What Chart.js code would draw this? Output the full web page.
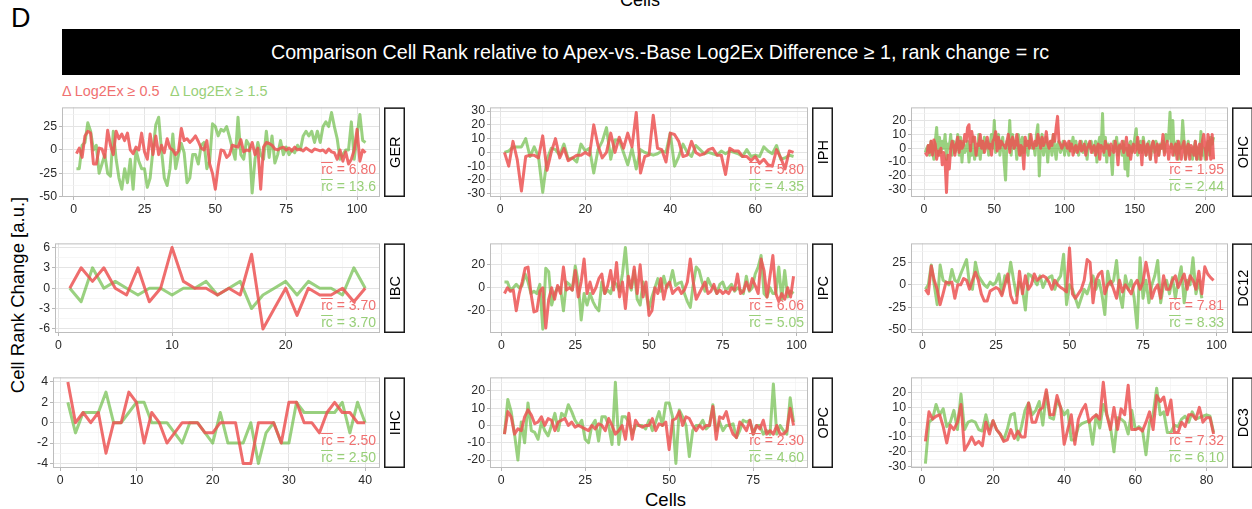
<!DOCTYPE html>
<html>
<head>
<meta charset="utf-8">
<script src="https://cdn.jsdelivr.net/npm/chart.js@4.4.1/dist/chart.umd.min.js"></script>
<style>
  body { margin: 0; width: 1252px; height: 509px; overflow: hidden; position: relative; background: #fff;
         font-family: "Liberation Sans", Arial, sans-serif; }
  .txt { position: absolute; white-space: nowrap; line-height: 1; }
  canvas { position: absolute; }
</style>
</head>
<body>
<div class="txt" style="left:620px;top:-9px;font-size:18px;color:#000">Cells</div>
<div class="txt" style="left:11px;top:5px;font-size:27px;color:#000">D</div>
<div style="position:absolute;left:62px;top:29px;width:1178px;height:46px;background:#000"></div>
<div class="txt" style="left:62px;width:1196px;text-align:center;top:43px;font-size:19.7px;color:#fff">Comparison Cell Rank relative to Apex-vs.-Base Log2Ex Difference ≥ 1, rank change = rc</div>
<div class="txt" style="left:62px;top:84px;font-size:14.4px;color:#f07070">Δ Log2Ex ≥ 0.5</div>
<div class="txt" style="left:170px;top:84px;font-size:14.4px;color:#98cf78">Δ Log2Ex ≥ 1.5</div>
<div class="txt" style="left:18px;top:295px;font-size:18.5px;color:#000;transform:translate(-50%,-50%) rotate(-90deg)">Cell Rank Change [a.u.]</div>
<div class="txt" style="left:645px;top:491px;font-size:18.5px;color:#000">Cells</div>

<script>
// ---- values (cell index = position + 1) ----
// red: Δ Log2Ex ≥ 0.5, green: Δ Log2Ex ≥ 1.5

const gerRed = [-4, 2, -8, 15, 20, 18, -15, -15, 2, 1,
  -8, 21, 5, -5, 20, 12, 17, 10, 18, 0,
  -4, 3, 0, 18, -2, -10, 17, -5, 15, -5,
  5, -3, 12, 2, 0, -5, -1, 23, 10, 12,
  8, 11, 15, 9, 2, 0, 10, -15, -25, -42,
  -18, 0, -1, -8, -5, 5, 4, 3, 11, -2,
  0, -1, 8, -5, 2, -42, 3, 8, 7, 5,
  1, 0, 2, 3, 0, 2, -1, 3, 0, 1,
  -1, 2, 0, -2, 1, 0, -1, 0, -3, 1,
  -2, -3, -10, 0, -12, -2, -15, -10, 0, 22,
  -12, 0, -3];
const gerGreen = [-20, -20, 5, 8, 29, 20, 0, 5, -25, -15,
  -5, -25, -28, 20, -10, -30, -42, -20, -35, -10,
  -42, 0, -12, -20, -20, -40, -30, 0, 27, 35,
  0, -30, -38, -20, 17, -20, -5, 7, -3, -35,
  -30, -5, -5, -15, 5, 8, -20, -12, 28, 25,
  15, 22, 20, 25, 14, 2, -10, 35, -5, -10,
  10, 5, -46, -10, 8, -5, -10, 20, -8, 15,
  -14, -5, 10, -5, 3, -5, 0, -3, 5, 0,
  15, 20, 15, 20, 8, 20, 8, 25, 30, 25,
  40, 25, 12, -10, -5, 0, 0, 30, -10, 15,
  38, 10, 8];

const iphRed = [0, -10, 8, -5, -28, -3, -2, -2, -4, 12,
  -13, 0, 10, -4, 3, -6, -4, -2, -2, 0,
  -2, 20, 5, -4, 0, 14, 0, 11, 3, 14,
  4, 29, -15, -3, -2, 27, 3, 2, -7, 14,
  13, 8, -3, -2, 8, 0, -2, -1, 2, 3,
  -2, -2, -16, 3, 1, 1, -3, -3, -6, -3,
  -8, -5, -9, -10, 2, -4, -12, 1, 0];
const iphGreen = [0, 1, 4, 4, 4, 10, -3, 4, -3, -29,
  -5, 3, 2, -2, 6, -5, -4, -7, 6, 1,
  3, -15, 2, 8, 18, -5, 9, 9, 0, -9,
  3, -12, 2, 0, -1, -2, -1, 1, 0, 14,
  -10, -3, 6, 0, -3, 5, 2, -1, 0, -1,
  -2, 1, -1, 1, 0, -1, -3, 2, -3, -2,
  -3, 4, 1, -1, 5, -5, -4, -2, -3];

const ohcRed = [-3, -5, 2, -3, 5, -5, 6, 3, -8, -2,
  -5, 0, -12, -3, -10, -32, -5, -15, 0, 5,
  2, -5, 3, 8, -3, 5, 0, 2, 10, 5,
  15, 17, -2, 12, 5, 8, -5, 3, 2, 10,
  0, 5, -3, 2, 8, 0, 3, -5, 5, 7,
  12, -2, 8, 0, 5, 3, 2, 0, 5, 10,
  -3, 5, 8, 0, 2, 10, 3, -5, 2, 0,
  -15, 8, 2, 5, 0, 10, 3, 0, 5, 2,
  10, 5, 0, 8, 2, 5, 12, 3, 0, 5,
  2, 10, 5, 15, 23, 5, 3, 0, 2, 5,
  3, 0, 5, -2, 3, -5, 0, 2, -3, 0,
  5, -2, 0, 3, -5, 0, 2, 5, -3, 0,
  2, -5, 0, 3, -8, 2, 0, -3, 5, 0,
  2, -5, 3, 0, -3, 5, 0, -12, 2, 0,
  5, -3, 0, 8, -5, 2, -8, 0, 3, -3,
  0, 8, -3, 2, -12, 5, 0, -5, 3, 0,
  -8, 2, 5, 0, -10, 3, -5, 2, 0, 10,
  -5, 0, 5, -8, 0, 3, -5, 0, 3, -8,
  5, 0, -8, 2, 5, -8, 0, 3, -8, 2,
  0, -5, 5, -8, 0, 3, -8, 5, 10, 0,
  -8, 10, 5, -8, 10, -8];
const ohcGreen = [-3, 0, 2, -5, 5, 0, -8, 5, 15, -5,
  8, -3, 5, 0, 10, -8, 3, 0, 10, -5,
  5, -3, 0, 10, -5, 8, -10, 5, -3, 0,
  5, -10, 2, -5, 8, -8, 0, -5, 10, -8,
  5, -3, 8, 0, 5, -5, 3, 10, 0, 20,
  -3, 5, 10, -5, 3, 8, -10, -23, 5, 0,
  20, -5, 10, 0, 5, -8, 10, 5, -5, 8,
  -3, 5, 0, -5, 10, 5, 0, 3, -5, 10,
  17, -20, 5, 10, -5, 0, 8, -10, 3, 5,
  -5, 10, 0, -8, 3, 5, -3, 0, 5, -5,
  3, 0, -5, 5, 0, 8, -3, 5, 0, -5,
  3, 5, -3, 0, 5, -8, 3, 0, 5, -3,
  0, 5, -10, 3, 8, 0, 25, -5, 8, -10,
  3, 0, -5, -19, 5, 0, 8, -5, 3, 0,
  -5, 5, -15, 0, -20, 3, 5, -3, 0, 8,
  14, -5, 0, 5, -3, 8, 0, -5, 3, 5,
  -8, 0, 5, -3, 5, 0, -5, 3, 0, 5,
  -3, 10, 5, 8, 26, 0, 20, -5, 0, 5,
  -8, 3, 0, 20, 5, -8, 0, 5, -5, 0,
  -8, 0, 5, -8, 0, -8, 12, -5, 0, -8,
  0, 5, -5, 8, 3, 8];

const ibcRed = [0, 3, 1, 3, 0, -1, 3, -2, 0, 6, 1, 0, 0, -1, 0, -1, 5, -6, -3, 0, -4, 0, -1, -1, 0, -2, 0];
const ibcGreen = [0, -2, 3, 0, 1, 0, -1, 0, 0, -1, 0, 0, 1, -1, 0, 1, -3, -1, 0, 1, -1, 1, 0, 0, -1, 3, 0];

const ipcRed = [-5, 0, -3, -2, -20, -5, 5, 17, 18, -5,
  -21, -20, -3, 0, -35, -10, 0, -10, 2, -5,
  18, -2, 0, -2, 15, -8, 5, 25, -5, 5,
  -5, 0, 8, 12, -5, 2, 15, -2, 22, -8,
  5, -18, 10, 0, 18, -5, 20, -8, 5, -24,
  -20, 0, -5, 8, -10, 2, 5, -5, -2, 0,
  -5, -2, 5, 25, 5, -10, -5, 0, 5, -5,
  -3, 3, -5, -2, -5, -3, -5, 0, -2, 12,
  -5, -3, 5, -2, 8, 2, -5, 25, 15, -8,
  10, 28, -5, -12, -5, -10, 0, -8, 10];
const ipcGreen = [5, 5, -2, 0, 3, 0, 2, 12, 5, -5,
  -3, -5, 3, -36, 17, 14, -15, -5, 0, 0,
  -20, 5, 3, -2, 19, 5, -28, -5, -15, -5,
  -12, -17, -20, 5, -5, -2, -5, 5, 3, -3,
  12, 35, 5, -2, 15, -10, -15, 5, -5, -18,
  -8, 0, 8, -3, 10, 0, 4, 15, 2, 4,
  5, -5, -12, -17, 3, 18, 15, 5, -3, 8,
  2, 0, -5, 3, 5, -2, 0, 3, -3, 0,
  -2, -5, 10, -3, 0, 12, 18, 28, -5, -8,
  0, -5, -5, 18, -10, 15, -8, -3, -5];

const dc12Red = [-5, -10, 21, 5, -5, -22, -10, 3, 2, 3,
  -15, 0, 0, 7, 5, -5, 5, 14, 5, -10,
  -18, -18, -7, -5, -3, -5, -12, 0, 12, -12,
  -20, -20, 15, -10, 10, -5, 0, 12, 5, 8,
  10, 8, 3, -5, 5, 0, -3, -5, -8, 41,
  -10, -15, -10, -5, 5, 28, 25, -20, 5, 12,
  15, -10, 0, 4, -5, -15, 5, -8, 0, -5,
  -10, 0, 5, -5, 3, 25, 8, -15, -5, 0,
  -15, 10, -5, -5, 5, 10, -3, 5, 12, -5,
  10, 5, -5, 15, -10, 20, 12, 8, 5];
const dc12Green = [-5, 0, 22, 0, -22, 22, 5, 3, 0, 17,
  5, 3, 12, 20, 28, 0, -5, 25, 10, 5,
  0, -3, 3, 0, 3, 12, -10, 10, 3, 25,
  5, -12, 3, -5, -28, 12, 10, 5, 0, 10,
  -3, 5, 8, 10, -5, 5, 10, 34, -22, 0,
  -5, -15, -25, -15, -5, -10, 0, 10, -5, 5,
  -10, -33, 15, 0, 5, 27, -10, -25, 10, -5,
  5, -15, -48, 30, -15, 5, -20, 0, 10, 27,
  -20, 0, 5, -10, 8, -15, 5, 20, -20, 5,
  0, 30, -10, 5, -15];

const ihcRed = [4, 0, 1, 0, 1, -3, 0, 0, 3, 2,
  -2, 1, 0, -2, -1, 0, 0, 0, -1, -1,
  0, 0, 0, -4, -4, 0, 0, 0, -2, 2,
  2, 0, 0, -1, 1, 2, 1, 1, 0, 0];
const ihcGreen = [2, -1, 1, 1, 1, 3, 0, 0, 1, 2,
  2, 0, 0, 0, -1, -2, 0, 0, -1, -2,
  1, -2, -2, -2, 0, -4, -1, 0, -2, -2,
  2, 1, 1, 1, 1, 1, 2, -1, 2, 0];

const opcRed = [-5, 8, 5, -5, -2, -3, 5, 9, 6, 1,
  2, 5, 0, 4, 3, -3, 2, 3, 4, 0,
  2, -1, 0, -1, -2, -3, 0, -2, 1, 0,
  -3, 4, 0, -5, -3, 0, -8, 7, -8, 3,
  0, -1, 0, 0, 4, -3, 1, 0, 2, -14,
  3, 4, 8, 0, 5, 4, 0, -3, 0, -2,
  0, 0, 11, -8, 5, 4, 8, 0, -5, -7,
  2, 0, -3, 3, -5, 0, -2, 3, -5, -3,
  -5, 0, -5, -5, -3, 10, 0];
const opcGreen = [-5, 15, 8, -5, -20, 2, -10, 13, -3, -4,
  -8, 2, -3, -6, 0, 7, -3, 7, 5, 12,
  8, 3, 0, 3, -8, -10, 0, 3, -9, 5,
  5, 0, -11, 25, -11, 5, 5, 2, -5, 0,
  0, 0, -2, 3, -3, 2, 8, 0, 13, 13,
  5, -22, 9, 5, 0, -18, -3, 0, 0, 3,
  -2, 0, 12, -3, 2, -3, 0, 0, 1, -7,
  -3, 3, 2, 3, -5, 0, 0, -5, -3, -5,
  24, -5, 0, -3, -5, 16, 2];

const dc3Red = [-13, 7, 2, 4, 5, -3, -14, -2, -5, 0,
  12, -19, -15, -10, -15, -13, -16, 0, -8, 1,
  -5, -8, -13, -12, -5, -11, -6, -10, -10, 13,
  0, 0, 8, 10, 22, 5, 5, 18, 10, -15,
  -5, 5, -15, 2, 8, 12, 0, 3, 5, 2,
  27, 5, -5, 10, -5, 9, 5, 25, -5, -5,
  -4, -6, 0, 7, -5, 18, 14, 17, 5, 15,
  -7, -7, 0, -3, 5, 5, 2, 10, 0, 3,
  3, -8];
const dc3Green = [-28, 0, 2, 12, 5, 9, -3, 0, 8, -5,
  19, -5, 0, 1, 0, -5, -6, 5, -5, 1,
  -5, -8, -12, -5, 5, 6, -12, -3, 8, 13,
  5, 8, 14, -2, 20, 3, 2, 15, 10, 5,
  8, -12, -12, -3, -1, 0, 1, -15, 5, -4,
  12, 5, -3, -20, 3, 2, 0, -8, 8, -5,
  -3, -5, -22, 0, 5, 23, 5, 7, -7, -7,
  -2, -3, 2, 4, 0, 7, 2, 3, 4, 5,
  4, -7];

// tick labels
const gerXTicks = [0, 25, 50, 75, 100], gerYTicks = [-50, -25, 0, 25];
const iphXTicks = [0, 20, 40, 60], iphYTicks = [-30, -20, -10, 0, 10, 20, 30];
const ohcXTicks = [0, 50, 100, 150, 200], ohcYTicks = [-30, -20, -10, 0, 10, 20];
const ibcXTicks = [0, 10, 20], ibcYTicks = [-6, -3, 0, 3, 6];
const ipcXTicks = [0, 25, 50, 75, 100], ipcYTicks = [-20, 0, 20];
const dc12XTicks = [0, 25, 50, 75, 100], dc12YTicks = [-50, -25, 0, 25];
const ihcXTicks = [0, 10, 20, 30, 40], ihcYTicks = [-4, -2, 0, 2, 4];
const opcXTicks = [0, 25, 50, 75], opcYTicks = [-20, -10, 0, 10, 20];
const dc3XTicks = [0, 20, 40, 60, 80], dc3YTicks = [-30, -20, -10, 0, 10, 20];

// mean rank change per panel [red, green]
const gerRc = ['6.80', '13.6'], iphRc = ['5.80', '4.35'], ohcRc = ['1.95', '2.44'];
const ibcRc = ['3.70', '3.70'], ipcRc = ['6.06', '5.05'], dc12Rc = ['7.81', '8.33'];
const ihcRc = ['2.50', '2.50'], opcRc = ['2.30', '4.60'], dc3Rc = ['7.32', '6.10'];

const FONT = '"Liberation Sans", Arial, sans-serif';
const RED_LINE = 'rgba(236, 84, 84, 0.85)';
const GREEN_LINE = 'rgba(100, 185, 60, 0.65)';
const RED_TXT = '#f07070';
const GREEN_TXT = '#98cf78';

// plot boxes [left, top, right, bottom]
const panels = [
  { name: 'GER', red: gerRed, green: gerGreen, xt: gerXTicks, yt: gerYTicks, y: [-50.3, 45.5], rc: gerRc, box: [62, 101, 380, 197] },
  { name: 'IPH', red: iphRed, green: iphGreen, xt: iphXTicks, yt: iphYTicks, y: [-32.4, 32.7], rc: iphRc, box: [490, 101, 808, 197] },
  { name: 'OHC', red: ohcRed, green: ohcGreen, xt: ohcXTicks, yt: ohcYTicks, y: [-35.2, 29.5], rc: ohcRc, box: [911, 101, 1228, 197] },
  { name: 'IBC', red: ibcRed, green: ibcGreen, xt: ibcXTicks, yt: ibcYTicks, y: [-6.6, 6.6], rc: ibcRc, box: [55, 237, 380, 333] },
  { name: 'IPC', red: ipcRed, green: ipcGreen, xt: ipcXTicks, yt: ipcYTicks, y: [-39.3, 38.6], rc: ipcRc, box: [490, 237, 808, 333] },
  { name: 'DC12', red: dc12Red, green: dc12Green, xt: dc12XTicks, yt: dc12YTicks, y: [-53.5, 46], rc: dc12Rc, box: [911, 237, 1228, 333] },
  { name: 'IHC', red: ihcRed, green: ihcGreen, xt: ihcXTicks, yt: ihcYTicks, y: [-4.45, 4.45], rc: ihcRc, box: [53, 371, 380, 468] },
  { name: 'OPC', red: opcRed, green: opcGreen, xt: opcXTicks, yt: opcYTicks, y: [-24.6, 27.8], rc: opcRc, box: [490, 371, 808, 468] },
  { name: 'DC3', red: dc3Red, green: dc3Green, xt: dc3XTicks, yt: dc3YTicks, y: [-31, 30.3], rc: dc3Rc, box: [911, 371, 1228, 468] },
];

// major ticks plus the minor ones halfway between, kept inside the range
function gridValues(major, lo, hi) {
  const half = (major[1] - major[0]) / 2;
  const out = [];
  for (let k = -2; k <= 2 * (major.length - 1) + 2; k++) {
    const v = major[0] + k * half;
    if (v >= lo && v <= hi) out.push(v);
  }
  return out;
}

// panel border, rc labels and the facet strip
const panelDeco = {
  id: 'panelDeco',
  afterDatasetsDraw(chart, args, opts) {
    const { ctx, chartArea: a } = chart;
    ctx.save();
    ctx.strokeStyle = '#bdbdbd';
    ctx.lineWidth = 1;
    ctx.strokeRect(a.left + 0.5, a.top + 0.5, a.right - a.left - 1, a.bottom - a.top - 1);

    ctx.font = '14px ' + FONT;
    ctx.textBaseline = 'alphabetic';
    ctx.textAlign = 'left';
    [[opts.rc[0], RED_TXT, 23], [opts.rc[1], GREEN_TXT, 6]].forEach(([val, col, dy]) => {
      const rest = ' = ' + val;
      const w1 = ctx.measureText('rc').width;
      const w2 = ctx.measureText(rest).width;
      const x0 = a.right - 4 - w1 - w2;
      const y = a.bottom - dy;
      ctx.fillStyle = col;
      ctx.fillText('rc', x0, y);
      ctx.fillText(rest, x0 + w1, y);
      ctx.strokeStyle = col;
      ctx.lineWidth = 1;
      ctx.beginPath();
      ctx.moveTo(x0, y - 11.5);
      ctx.lineTo(x0 + w1, y - 11.5);
      ctx.stroke();
    });

    const sx = a.right + 4, sw = 21, sh = a.bottom - a.top;
    ctx.fillStyle = '#fff';
    ctx.fillRect(sx, a.top, sw, sh);
    ctx.strokeStyle = '#1a1a1a';
    ctx.lineWidth = 1.5;
    ctx.strokeRect(sx + 0.75, a.top + 0.75, sw - 1.5, sh - 1.5);
    ctx.translate(sx + sw / 2, a.top + sh / 2);
    ctx.rotate(-Math.PI / 2);
    ctx.fillStyle = '#000';
    ctx.font = '14.5px ' + FONT;
    ctx.textAlign = 'center';
    ctx.textBaseline = 'middle';
    ctx.fillText(opts.name, 0, 1);
    ctx.restore();
  }
};

function makePanel(p) {
  const [l, t, r, b] = p.box;
  const wy = 40, hx = 20, padTop = 3, padRight = 30;
  const W = (r - l) + wy + padRight;
  const H = (b - t) + padTop + hx;
  const cv = document.createElement('canvas');
  cv.width = W;
  cv.height = H;
  cv.style.left = (l - wy) + 'px';
  cv.style.top = (t - padTop) + 'px';
  cv.style.width = W + 'px';
  cv.style.height = H + 'px';
  document.body.appendChild(cv);

  const n = Math.max(p.red.length, p.green.length);
  const xMin = 1 - 0.05 * (n - 1), xMax = n + 0.05 * (n - 1);
  const xGrid = gridValues(p.xt, xMin, xMax);
  const yGrid = gridValues(p.yt, p.y[0], p.y[1]);
  const pts = arr => arr.map((v, i) => ({ x: i + 1, y: v }));

  const axis = (major, values, isX) => ({
    type: 'linear',
    afterBuildTicks: s => { s.ticks = values.map(v => ({ value: v })); },
    afterFit: s => { if (isX) s.height = hx; else s.width = wy; },
    border: { display: false },
    grid: {
      color: c => major.includes(c.tick.value) ? '#e4e4e4' : '#f2f2f2',
      lineWidth: c => major.includes(c.tick.value) ? 1 : 0.7,
      tickLength: 3,
      tickColor: c => major.includes(c.tick.value) ? '#b8b8b8' : 'rgba(0,0,0,0)'
    },
    ticks: {
      autoSkip: false, maxRotation: 0, padding: 2, color: '#2a2a2a',
      font: { family: FONT, size: 12.3 },
      callback: v => major.includes(v) ? String(v) : ''
    }
  });

  const xScale = Object.assign(axis(p.xt, xGrid, true), { min: xMin, max: xMax });
  const yScale = Object.assign(axis(p.yt, yGrid, false), { min: p.y[0], max: p.y[1] });

  new Chart(cv, {
    type: 'line',
    data: {
      datasets: [
        { data: pts(p.red), borderColor: RED_LINE },
        { data: pts(p.green), borderColor: GREEN_LINE }
      ]
    },
    options: {
      responsive: false,
      animation: false,
      devicePixelRatio: 1,
      layout: { padding: { top: padTop, right: padRight, left: 0, bottom: 0 } },
      elements: {
        line: { borderWidth: 3, tension: 0, borderJoinStyle: 'round', fill: false },
        point: { radius: 0 }
      },
      scales: { x: xScale, y: yScale },
      plugins: {
        legend: { display: false },
        tooltip: { enabled: false },
        panelDeco: { name: p.name, rc: p.rc }
      }
    },
    plugins: [panelDeco]
  });
}

panels.forEach(makePanel);
</script>
</body>
</html>
